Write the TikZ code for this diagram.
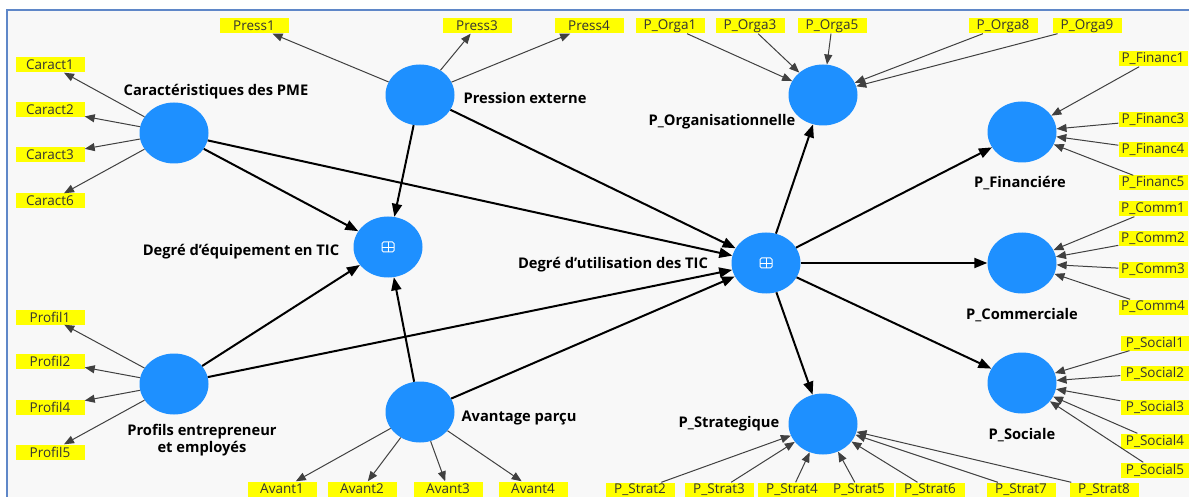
\documentclass[tikz,border=0pt]{standalone}
\usepackage{fontspec}
\setmainfont{Open Sans}
\usetikzlibrary{arrows.meta,shapes.geometric}

\definecolor{lvblue}{RGB}{30,144,255}
\definecolor{mvyellow}{RGB}{255,255,0}
\definecolor{frameblue}{RGB}{95,135,200}
\definecolor{panelgray}{RGB}{248,248,248}

\tikzset{
  lv/.style={ellipse, fill=lvblue, minimum width=69pt, minimum height=61pt, inner sep=0pt},
  lvlabel/.style={font=\bfseries\fontsize{14.7}{17.5}\selectfont, align=center, inner sep=0pt},
  mv/.style={fill=mvyellow, text=black!80, font=\fontsize{13.5}{14}\selectfont,
    minimum width=69pt, minimum height=15pt, inner sep=0pt},
  structural/.style={line width=2pt, -{Triangle[length=13pt,width=10pt]}},
  loading/.style={line width=1pt, black!75, -{Triangle[length=10pt,width=8pt]}},
  hoc/.pic={
    \draw[white, line width=1pt, rounded corners=1.5pt] (-6,-5) rectangle (6,5);
    \draw[white, line width=0.9pt] (-6,0) -- (6,0) (0,-5) -- (0,5);
  }
}

\begin{document}
\begin{tikzpicture}[x=1pt,y=-1pt]
  \useasboundingbox (0,0) rectangle (1189,497);
  \fill[white] (0,0) rectangle (1189,497);
  \fill[panelgray] (7,10) rectangle (1189,497);
  \draw[frameblue, line width=2pt] (7,497) -- (7,10) -- (1189,10);

  % latent variables
  \node[lv] (caract) at (174,133) {};
  \node[lv] (press) at (420,95) {};
  \node[lv] (equip) at (388,247) {};
  \node[lv] (util) at (766,263) {};
  \node[lv] (orga) at (823,95) {};
  \node[lv] (financ) at (1022,132) {};
  \node[lv] (comm) at (1022,263) {};
  \node[lv] (sociale) at (1022,383) {};
  \node[lv] (strat) at (823,424) {};
  \node[lv] (avant) at (420,412) {};
  \node[lv] (profil) at (174,384) {};
  \pic at (equip.center) {hoc};
  \pic at (util.center) {hoc};

  \node[lvlabel] (caractlbl) at (216,92) {Caractéristiques des PME};
  \node[lvlabel] (presslbl) at (525,98) {Pression externe};
  \node[lvlabel] (equiplbl) at (241,252) {Degré d'équipement en TIC};
  \node[lvlabel] (utillbl) at (613,265) {Degré d'utilisation des TIC};
  \node[lvlabel] (orgalbl) at (722,122) {P\_Organisationnelle};
  \node[lvlabel] (financlbl) at (1020,183) {P\_Financiére};
  \node[lvlabel] (commlbl) at (1022,315) {P\_Commerciale};
  \node[lvlabel] (socialelbl) at (1022,435) {P\_Sociale};
  \node[lvlabel] (stratlbl) at (729,424) {P\_Strategique};
  \node[lvlabel] (avantlbl) at (519,418) {Avantage parçu};
  \node[lvlabel] (profillbl) at (202,440) {Profils entrepreneur\\et employés};

  % indicators
  \node[mv] (c1) at (50,65) {Caract1};
  \node[mv] (c2) at (50,110) {Caract2};
  \node[mv] (c3) at (50,155) {Caract3};
  \node[mv] (c6) at (50,201) {Caract6};
  \node[mv] (pr1) at (50,317) {Profil1};
  \node[mv] (pr2) at (50,361) {Profil2};
  \node[mv] (pr4) at (50,407) {Profil4};
  \node[mv] (pr5) at (50,452) {Profil5};
  \node[mv] (ps1) at (254,26) {Press1};
  \node[mv] (ps3) at (477,26) {Press3};
  \node[mv] (ps4) at (589,26) {Press4};
  \node[mv] (o1) at (670,26) {P\_Orga1};
  \node[mv] (o3) at (750,26) {P\_Orga3};
  \node[mv] (o5) at (832,26) {P\_Orga5};
  \node[mv] (o8) at (1003,26) {P\_Orga8};
  \node[mv] (o9) at (1087,26) {P\_Orga9};
  \node[mv] (f1) at (1153,59) {P\_Financ1};
  \node[mv] (f3) at (1153,120) {P\_Financ3};
  \node[mv] (f4) at (1153,150) {P\_Financ4};
  \node[mv] (f5) at (1153,183) {P\_Financ5};
  \node[mv] (cm1) at (1153,209) {P\_Comm1};
  \node[mv] (cm2) at (1153,239) {P\_Comm2};
  \node[mv] (cm3) at (1153,270) {P\_Comm3};
  \node[mv] (cm4) at (1153,307) {P\_Comm4};
  \node[mv] (s1) at (1155,343) {P\_Social1};
  \node[mv] (s2) at (1155,373) {P\_Social2};
  \node[mv] (s3) at (1155,407) {P\_Social3};
  \node[mv] (s4) at (1155,441) {P\_Social4};
  \node[mv] (s5) at (1155,470) {P\_Social5};
  \node[mv] (a1) at (282,489) {Avant1};
  \node[mv] (a2) at (362,489) {Avant2};
  \node[mv] (a3) at (448,489) {Avant3};
  \node[mv] (a4) at (533,489) {Avant4};
  \node[mv] (st2) at (640,490) {P\_Strat2};
  \node[mv] (st3) at (719,490) {P\_Strat3};
  \node[mv] (st4) at (792,490) {P\_Strat4};
  \node[mv] (st5) at (859,490) {P\_Strat5};
  \node[mv] (st6) at (930,490) {P\_Strat6};
  \node[mv] (st7) at (1021,490) {P\_Strat7};
  \node[mv] (st8) at (1104,490) {P\_Strat8};

  % outer model
  \foreach \m in {c1,c2,c3,c6} \draw[loading] (caract) -- (\m);
  \foreach \m in {pr1,pr2,pr4,pr5} \draw[loading] (profil) -- (\m);
  \foreach \m in {ps1,ps3,ps4} \draw[loading] (press) -- (\m);
  \foreach \m in {a1,a2,a3,a4} \draw[loading] (avant) -- (\m);
  \foreach \m in {o1,o3,o5,o8,o9} \draw[loading] (\m) -- (orga);
  \foreach \m in {f1,f3,f4,f5} \draw[loading] (\m) -- (financ);
  \foreach \m in {cm1,cm2,cm3,cm4} \draw[loading] (\m) -- (comm);
  \foreach \m in {s1,s2,s3,s4,s5} \draw[loading] (\m) -- (sociale);
  \foreach \m in {st2,st3,st4,st5,st6,st7,st8} \draw[loading] (\m) -- (strat);

  % inner model
  \foreach \m in {caract,press,profil,avant} {
    \draw[structural] (\m) -- (equip);
    \draw[structural] (\m) -- (util);
  }
  \foreach \m in {orga,financ,comm,sociale,strat} \draw[structural] (util) -- (\m);
\end{tikzpicture}
\end{document}
